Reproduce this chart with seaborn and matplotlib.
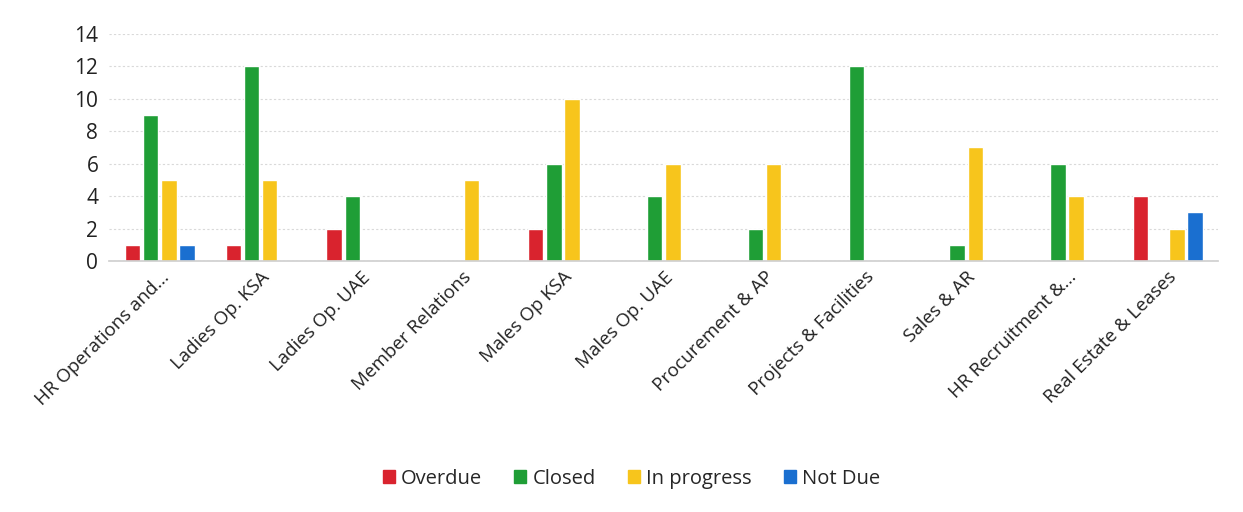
import numpy as np
import pandas as pd
import matplotlib
matplotlib.use("Agg")
import matplotlib.pyplot as plt
import seaborn as sns

# --- DATA ---
departments = [
    "HR Operations and...", "Ladies Op. KSA", "Ladies Op. UAE", "Member Relations",
    "Males Op KSA", "Males Op. UAE", "Procurement & AP", "Projects & Facilities",
    "Sales & AR", "HR Recruitment &...", "Real Estate & Leases",
]
overdue = [1, 1, 2, 0, 2, 0, 0, 0, 0, 0, 4]
closed = [9, 12, 4, 0, 6, 4, 2, 12, 1, 6, 0]
in_progress = [5, 5, 0, 5, 10, 6, 6, 0, 7, 4, 2]
not_due = [1, 0, 0, 0, 0, 0, 0, 0, 0, 0, 3]

statuses = ["Overdue", "Closed", "In progress", "Not Due"]
colors = ["#d9232e", "#1f9e36", "#f7c51c", "#1a6fd0"]

df = pd.DataFrame({
    "dept": departments * 4,
    "status": np.repeat(statuses, len(departments)),
    "count": overdue + closed + in_progress + not_due,
})

sns.set_theme(style="white")
plt.rcParams["font.family"] = ["Open Sans", "DejaVu Sans"]

fig = plt.figure(figsize=(12.43, 5.12), dpi=100)
ax = fig.add_axes([0.088, 0.49, 0.892, 0.444])

sns.barplot(data=df, x="dept", y="count", hue="status", order=departments,
            hue_order=statuses, palette=colors, width=0.72, gap=0.15,
            saturation=1, ax=ax)

ax.set_ylim(0, 14)
ax.set_xlim(-0.5, len(departments) - 0.5)
ax.set_yticks(range(0, 15, 2))
ax.yaxis.grid(True, color="#d9d9d9", linestyle=(0, (2, 2)), linewidth=0.8)
ax.set_axisbelow(True)
for s in ["top", "right", "left"]:
    ax.spines[s].set_visible(False)
ax.spines["bottom"].set_color("#d0d0d0")
ax.tick_params(axis="y", length=0, labelsize=15, pad=8, colors="#222222")
ax.tick_params(axis="x", which="major", length=0, labelsize=13.5, pad=5, colors="#222222")
ax.set_xticks(np.arange(-0.5, len(departments), 1), minor=True)
ax.tick_params(axis="x", which="minor", length=4, color="#d0d0d0")
plt.setp(ax.get_xticklabels(), rotation=45, ha="right", rotation_mode="anchor")
ax.set_xlabel("")
ax.set_ylabel("")

ax.get_legend().remove()
handles = [plt.Rectangle((0, 0), 1, 1, color=c) for c in colors]
fig.legend(handles, statuses, loc="center", bbox_to_anchor=(0.508, 0.065),
           ncol=4, frameon=False, fontsize=14.5, handlelength=0.6, handleheight=0.6,
           handletextpad=0.3, columnspacing=1.6)

fig.savefig("out.png", dpi=100)
